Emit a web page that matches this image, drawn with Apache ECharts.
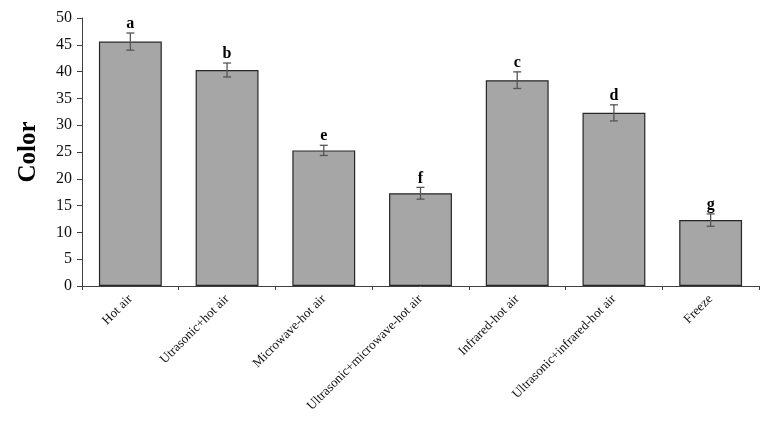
<!DOCTYPE html>
<html>
<head>
<meta charset="utf-8">
<script src="https://cdn.jsdelivr.net/npm/echarts@6/dist/echarts.min.js"></script>
<style>html,body{margin:0;padding:0;background:#fff;}#c{width:769px;height:421px;}</style>
</head>
<body>
<div id="c"></div>
<script>
var categories = ["Hot air", "Utrasonic+hot air", "Microwave-hot air", "Ultrasonic+microwave-hot air", "Infrared-hot air", "Ultrasonic+infrared-hot air", "Freeze"];
var values = [45.6, 40.3, 25.3, 17.3, 38.4, 32.3, 12.3];
var errors = [1.6, 1.3, 0.95, 1.1, 1.55, 1.5, 1.15];
var letters = ["a", "b", "e", "f", "c", "d", "g"];
var yTicks = [0, 5, 10, 15, 20, 25, 30, 35, 40, 45, 50];

var serif = '"Liberation Serif", "Times New Roman", serif';
var chart = echarts.init(document.getElementById('c'));
var errData = values.map(function (v, i) { return [i, v, errors[i], letters[i]]; });
chart.setOption({
  animation: false,
  grid: { left: 82, right: 10, top: 18, bottom: 135 },
  xAxis: {
    type: 'category',
    data: categories,
    axisLine: { lineStyle: { color: '#404040', width: 1 } },
    axisTick: { show: true, length: 4, lineStyle: { color: '#404040' } },
    axisLabel: { rotate: 45, color: '#111', fontFamily: serif, fontSize: 13, margin: 11, interval: 0 }
  },
  yAxis: {
    type: 'value', min: yTicks[0], max: yTicks[yTicks.length - 1], interval: 5,
    name: 'Color', nameLocation: 'middle', nameGap: 41, nameRotate: 90,
    nameTextStyle: { fontFamily: serif, fontSize: 25, fontWeight: 'bold', color: '#000' },
    axisLine: { show: true, lineStyle: { color: '#404040', width: 1 } },
    axisTick: { show: true, length: 5, lineStyle: { color: '#404040' } },
    splitLine: { show: false },
    axisLabel: { color: '#111', fontFamily: serif, fontSize: 16, margin: 10 }
  },
  series: [{
    type: 'bar',
    data: values,
    barWidth: '65%',
    itemStyle: { color: '#a6a6a6', borderColor: '#262626', borderWidth: 1.2 }
  }, {
    type: 'custom',
    data: errData,
    z: 10,
    renderItem: function (params, api) {
      var i = api.value(0), v = api.value(1), e = api.value(2);
      var hi = api.coord([i, v + e]);
      var lo = api.coord([i, v - e]);
      var cap = 4;
      var st = { stroke: '#555', lineWidth: 1.3 };
      return {
        type: 'group',
        children: [
          { type: 'line', shape: { x1: hi[0], y1: hi[1], x2: lo[0], y2: lo[1] }, style: st },
          { type: 'line', shape: { x1: hi[0] - cap, y1: hi[1], x2: hi[0] + cap, y2: hi[1] }, style: st },
          { type: 'line', shape: { x1: lo[0] - cap, y1: lo[1], x2: lo[0] + cap, y2: lo[1] }, style: st },
          { type: 'text', style: { x: hi[0], y: hi[1] - 1, text: letters[params.dataIndex], textAlign: 'center', textVerticalAlign: 'bottom', font: 'bold 16px ' + serif, fill: '#000' } }
        ]
      };
    }
  }]
});
</script>
</body>
</html>
